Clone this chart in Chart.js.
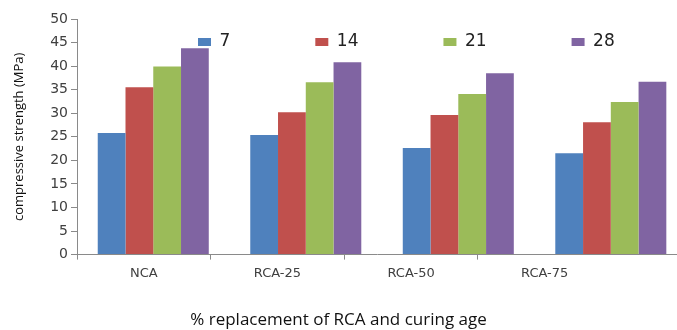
<!DOCTYPE html>
<html>
<head>
<meta charset="utf-8">
<script src="https://cdn.jsdelivr.net/npm/chart.js@4.4.1/dist/chart.umd.min.js"></script>
<style>
html,body{margin:0;padding:0;background:#fff;}
#wrap{width:677px;height:330px;}
</style>
</head>
<body>
<div id="wrap"><canvas id="c" width="677" height="330"></canvas></div>
<script>
const categories = ['NCA', 'RCA-25', 'RCA-50', 'RCA-75'];
const seriesNames = ['7', '14', '21', '28'];
const day7  = [25.8, 25.4, 22.6, 21.5];
const day14 = [35.5, 30.2, 29.6, 28.1];
const day21 = [39.9, 36.6, 34.1, 32.4];
const day28 = [43.8, 40.8, 38.5, 36.7];
const yTicks = [0, 5, 10, 15, 20, 25, 30, 35, 40, 45, 50];
const yTitle = 'compressive strength (MPa)';
const xTitle = '% replacement of RCA and curing age';

const colors = ['#4F81BD', '#C0504D', '#9BBB59', '#8064A2'];
const allSeries = [day7, day14, day21, day28];

const datasets = allSeries.map((vals, k) => ({
  label: seriesNames[k],
  data: vals.map((v, i) => ({x: i, y: v})),
  backgroundColor: colors[k],
  borderWidth: 0,
  xAxisID: 'xb',
  yAxisID: 'y',
  categoryPercentage: 0.728,
  barPercentage: 1.0
}));

const axisGray = '#8a8a8a';
const textGray = '#404040';
const legendGap = 85;
const legendFontSize = 17;

// The legend overlaps the top of the plot area, as in the original figure
const legendPlacement = {
  id: 'legendPlacement',
  afterLayout(chart) {
    const lg = chart.legend;
    if (!lg) return;
    lg.left = 198 - legendGap;
    lg.right = 800;
    lg.top = 42 - legendGap - legendFontSize / 2;
    lg.bottom = lg.top + 2 * legendGap + legendFontSize;
    lg.width = lg.right - lg.left;
    lg.height = lg.bottom - lg.top;
  }
};

new Chart(document.getElementById('c'), {
  type: 'bar',
  data: { datasets },
  plugins: [legendPlacement],
  options: {
    responsive: false,
    animation: false,
    devicePixelRatio: 1,
    layout: { padding: { top: 18, left: 0, right: 0, bottom: 0 } },
    plugins: {
      tooltip: { enabled: false },
      legend: {
        position: 'top',
        align: 'start',
        maxHeight: 1,
        labels: {
          boxWidth: 13,
          boxHeight: 8,
          padding: legendGap,
          color: '#222',
          font: { family: 'DejaVu Sans', size: legendFontSize }
        }
      },
      title: {
        display: true,
        position: 'bottom',
        text: xTitle,
        color: '#111',
        font: { family: 'Open Sans', size: 17, weight: 'normal' },
        padding: { top: 0, bottom: 0 }
      }
    },
    scales: {
      xb: {
        type: 'linear',
        display: false,
        offset: false,
        min: -0.5,
        max: 3.434,
        afterBuildTicks: (scale) => {
          scale.ticks = categories.map((_, i) => ({ value: i }));
        }
      },
      x: {
        type: 'linear',
        position: 'bottom',
        offset: false,
        min: 0,
        max: 4.49,
        afterBuildTicks: (scale) => {
          scale.ticks = categories.map((_, i) => ({ value: i + 0.5 }));
        },
        afterFit: (scale) => { scale.height = 55; },
        ticks: {
          autoSkip: false,
          maxRotation: 0,
          minRotation: 0,
          padding: 6,
          color: textGray,
          font: { family: 'DejaVu Sans', size: 13 },
          callback: (v, i) => categories[i]
        },
        grid: {
          offset: true,
          drawOnChartArea: false,
          drawTicks: true,
          tickLength: 5,
          color: (ctx) => (ctx.type === 'tick' ? axisGray : 'rgba(0,0,0,0)')
        },
        border: { display: true, color: axisGray, width: 1 }
      },
      y: {
        type: 'linear',
        min: 0,
        max: 50,
        afterBuildTicks: (scale) => {
          scale.ticks = yTicks.map(v => ({ value: v }));
        },
        afterFit: (scale) => { scale.width = 77; },
        ticks: {
          padding: 3,
          color: textGray,
          font: { family: 'DejaVu Sans', size: 14 }
        },
        grid: {
          drawOnChartArea: false,
          drawTicks: true,
          tickLength: 6,
          color: axisGray
        },
        border: { display: true, color: axisGray, width: 1 },
        title: {
          display: true,
          text: yTitle,
          color: '#111',
          font: { family: 'Open Sans', size: 13 },
          padding: { top: 11, bottom: 0 }
        }
      }
    }
  }
});
</script>
</body>
</html>
